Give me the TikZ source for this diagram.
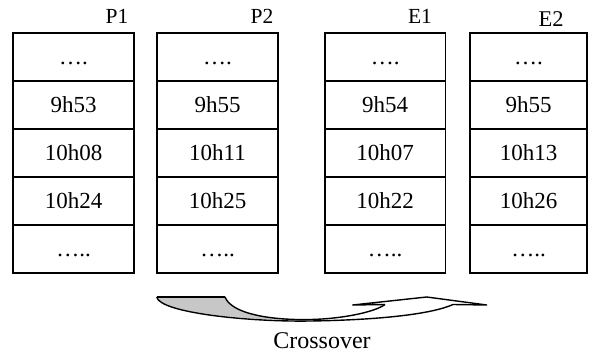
\documentclass[tikz,border=0pt]{standalone}
\usepackage{fontspec}
\setmainfont{Liberation Serif}
\begin{document}
\begin{tikzpicture}[x=1pt,y=-1pt,
  cell/.style={draw,line width=1.6pt,minimum height=48pt,inner sep=0pt,
    text height=15.5pt,text depth=0pt,font=\fontsize{23}{27}\selectfont},
  collabel/.style={anchor=base,inner sep=0pt,font=\fontsize{21.5}{25}\selectfont},
  band/.style={line width=1.4pt,line join=round},
]
\useasboundingbox (0,0) rectangle (591,358);

% column P1
\foreach \r/\t/\y in {1/{….}/57,2/{9h53}/105,3/{10h08}/153,4/{10h24}/201,5/{…..}/249}
  \node[cell,minimum width=121pt] (pa\r) at (73.5,\y) {\t};
% column P2
\foreach \r/\t/\y in {1/{….}/57,2/{9h55}/105,3/{10h11}/153,4/{10h25}/201,5/{…..}/249}
  \node[cell,minimum width=121pt] (pb\r) at (217.5,\y) {\t};
% column E1
\foreach \r/\t/\y in {1/{….}/57,2/{9h54}/105,3/{10h07}/153,4/{10h22}/201,5/{…..}/249}
  \node[cell,minimum width=120.5pt] (ea\r) at (385.2,\y) {\t};
% column E2
\foreach \r/\t/\y in {1/{….}/57,2/{9h55}/105,3/{10h13}/153,4/{10h26}/201,5/{…..}/249}
  \node[cell,minimum width=117pt] (eb\r) at (528.5,\y) {\t};

\node[collabel] (lp1) at (117,24) {P1};
\node[collabel] (lp2) at (262,24) {P2};
\node[collabel] (le1) at (420,24) {E1};
\node[collabel,font=\fontsize{22.5}{26}\selectfont] (le2) at (551,27) {E2};

% crossover curved arrow
\fill[black!22] (156.7,297) -- (225,297)
  .. controls (231,312) and (262,319) .. (300,319.6)
  .. controls (250,321) and (160,312) .. (156.7,297) -- cycle;
\draw[band] (156.7,297) -- (225,297);
\draw[band] (156.7,297) .. controls (160,313) and (250,322) .. (310,321)
  .. controls (380,320) and (432,314) .. (453,304.5);
\draw[band] (225,297) .. controls (231,312) and (262,319) .. (300,319.6)
  .. controls (340,320) and (375,312) .. (385,304.5);
\draw[band] (385,304.5) -- (352.7,305) -- (426.7,297) -- (486.7,305) -- (453,304.5);

\node[anchor=base,inner sep=0pt,font=\fontsize{24}{28}\selectfont] (cross) at (322,348) {Crossover};
\end{tikzpicture}
\end{document}
